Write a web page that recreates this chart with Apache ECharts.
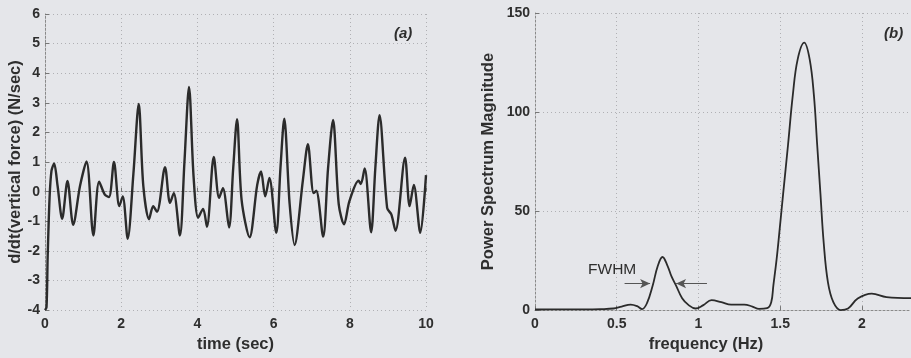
<!DOCTYPE html>
<html>
<head>
<meta charset="utf-8">
<script src="https://cdn.jsdelivr.net/npm/echarts@6/dist/echarts.min.js"></script>
<style>
  html, body { margin: 0; padding: 0; background: #e5e6ea; }
  #chart { width: 911px; height: 358px; }
</style>
</head>
<body>
<div id="chart"></div>
<script>
// (a) rate of change of vertical force over time
const timeSec = [0, 0.04, 0.07, 0.12, 0.17, 0.24, 0.33, 0.45, 0.59, 0.74, 0.92, 1.09, 1.27, 1.42, 1.57, 1.68, 1.81, 1.95, 2.04, 2.17, 2.32, 2.46, 2.58, 2.73, 2.84, 2.94, 3.15, 3.28, 3.38, 3.54, 3.66, 3.78, 3.9, 4.02, 4.15, 4.25, 4.43, 4.57, 4.67, 4.83, 4.94, 5.04, 5.16, 5.37, 5.57, 5.67, 5.78, 5.89, 6.07, 6.18, 6.28, 6.42, 6.55, 6.77, 6.9, 7.05, 7.12, 7.3, 7.43, 7.56, 7.71, 7.85, 7.99, 8.23, 8.29, 8.39, 8.56, 8.67, 8.78, 8.98, 9.09, 9.2, 9.45, 9.57, 9.68, 9.85, 10];
const forceRate = [-4, -3.9, -2.2, -0.2, 0.7, 0.95, 0.2, -0.92, 0.36, -1.12, 0.2, 1.02, -1.48, 0.34, -0.1, -0.18, 1.0, -0.49, -0.16, -1.59, 0.6, 2.96, 0.2, -0.93, -0.49, -0.68, 0.83, -0.38, -0.05, -1.48, 1.0, 3.54, 0.5, -0.88, -0.58, -1.19, 1.17, -0.21, 0.12, -1.21, 0.8, 2.45, -0.28, -1.54, 0.23, 0.68, -0.16, 0.46, -1.39, 0.8, 2.46, -0.4, -1.8, 0.4, 1.6, -0.05, 0.03, -1.52, 0.8, 2.42, -0.43, -1.1, -0.32, 0.37, 0.26, 0.78, -1.37, 0.8, 2.58, -0.55, -0.77, -1.32, 1.15, -0.49, 0.23, -1.39, 0.56];

// (b) power spectrum of the signal above
const freqHz = [0, 0.1, 0.2, 0.3, 0.4, 0.48, 0.53, 0.585, 0.625, 0.655, 0.685, 0.72, 0.75, 0.78, 0.81, 0.835, 0.863, 0.9, 0.94, 0.982, 1.03, 1.08, 1.14, 1.2, 1.28, 1.33, 1.37, 1.42, 1.445, 1.458, 1.478, 1.498, 1.518, 1.548, 1.577, 1.607, 1.647, 1.68, 1.706, 1.726, 1.746, 1.766, 1.792, 1.825, 1.87, 1.915, 1.974, 2.06, 2.15, 2.3];
const powerMag = [0.3, 0.4, 0.4, 0.4, 0.5, 0.8, 1.8, 2.8, 2.0, 0.5, 3.5, 12.4, 22, 26.8, 22.5, 17, 12.4, 6, 2.5, 0.8, 2.5, 5, 4, 2.8, 2.8, 1.8, 0.6, 1.0, 4, 12.4, 25.7, 42, 58.8, 83.6, 108.5, 126.7, 135, 126.7, 108.5, 83.6, 58.8, 34, 14, 4, 0, 0.8, 5.8, 8.3, 6.6, 6.0];

// half-maximum width of the 0.78 Hz peak
const fwhmLevel = 13.4;
const fwhmLeft = [0.548, 0.704];
const fwhmRight = [1.052, 0.863];

const FONT = '"Liberation Sans", Arial, sans-serif';
const INK = '#2e2e2e';

function pairs(xs, ys) { return xs.map((x, i) => [x, ys[i]]); }

const axisLineStyle = { color: '#8a8a8a', width: 1, type: [2, 2] };
const gridLineStyle = { color: '#b0b0b4', width: 1, type: [1, 3] };
const tickLabel = { color: INK, fontFamily: FONT, fontWeight: 'bold', fontSize: 14 };
const nameStyle = { color: INK, fontFamily: FONT, fontWeight: 'bold', fontSize: 16.5 };

const chart = echarts.init(document.getElementById('chart'), null, { renderer: 'canvas' });

chart.setOption({
  backgroundColor: '#e5e6ea',
  animation: false,
  title: [
    { text: '(a)', left: 389, top: 21, textStyle: { color: INK, fontFamily: FONT, fontWeight: 'bold', fontStyle: 'italic', fontSize: 15 } },
    { text: '(b)', left: 879, top: 21, textStyle: { color: INK, fontFamily: FONT, fontWeight: 'bold', fontStyle: 'italic', fontSize: 15 } }
  ],
  grid: [
    { left: 45, top: 14, right: 485, bottom: 42 },
    { left: 535, top: 13, right: -8, bottom: 43 }
  ],
  xAxis: [
    {
      gridIndex: 0, type: 'value', min: 0, max: 10, interval: 2,
      name: 'time (sec)', nameLocation: 'middle', nameGap: 24, nameTextStyle: nameStyle,
      axisLine: { lineStyle: axisLineStyle },
      axisTick: { inside: true, length: 4, lineStyle: { color: '#777' } },
      axisLabel: Object.assign({ margin: 7 }, tickLabel),
      splitLine: { show: true, lineStyle: gridLineStyle }
    },
    {
      gridIndex: 1, type: 'value', min: 0, max: 2.3, interval: 0.5,
      name: 'frequency (Hz)', nameLocation: 'middle', nameGap: 24,
      nameTextStyle: Object.assign({ padding: [0, 34, 0, 0] }, nameStyle),
      axisLine: { lineStyle: axisLineStyle },
      axisTick: { inside: true, length: 4, lineStyle: { color: '#777' } },
      axisLabel: Object.assign({ margin: 7, showMaxLabel: false }, tickLabel),
      splitLine: { show: true, lineStyle: gridLineStyle }
    }
  ],
  yAxis: [
    {
      gridIndex: 0, type: 'value', min: -4, max: 6, interval: 1,
      name: 'd/dt(vertical force) (N/sec)', nameLocation: 'middle', nameGap: 19, nameTextStyle: nameStyle,
      axisLine: { show: true, lineStyle: axisLineStyle },
      axisTick: { show: true, inside: true, length: 4, lineStyle: { color: '#777' } },
      axisLabel: Object.assign({ margin: 5 }, tickLabel),
      splitLine: { show: true, lineStyle: gridLineStyle }
    },
    {
      gridIndex: 1, type: 'value', min: 0, max: 150, interval: 50,
      name: 'Power Spectrum Magnitude', nameLocation: 'middle', nameGap: 38, nameTextStyle: nameStyle,
      axisLine: { show: true, lineStyle: axisLineStyle },
      axisTick: { show: true, inside: true, length: 4, lineStyle: { color: '#777' } },
      axisLabel: Object.assign({ margin: 5 }, tickLabel),
      splitLine: { show: true, lineStyle: gridLineStyle }
    }
  ],
  series: [
    {
      type: 'line', xAxisIndex: 0, yAxisIndex: 0,
      data: pairs(timeSec, forceRate),
      smooth: 0.3, showSymbol: false, clip: true,
      lineStyle: { color: '#2b2b2b', width: 2.4 }
    },
    {
      type: 'line', xAxisIndex: 1, yAxisIndex: 1,
      data: pairs(freqHz, powerMag),
      smooth: 0.4, showSymbol: false, clip: true,
      lineStyle: { color: '#2b2b2b', width: 1.8 },
      markLine: {
        silent: true,
        symbol: ['none', 'arrow'],
        symbolSize: [7, 10],
        label: { show: false },
        lineStyle: { color: '#555', width: 1, type: 'solid' },
        data: [
          [{ coord: [fwhmLeft[0], fwhmLevel] }, { coord: [fwhmLeft[1], fwhmLevel] }],
          [{ coord: [fwhmRight[0], fwhmLevel] }, { coord: [fwhmRight[1], fwhmLevel] }]
        ]
      },
      markPoint: {
        silent: true,
        symbol: 'circle', symbolSize: 0,
        data: [{ coord: [0.472, 20.5], value: 'FWHM' }],
        label: {
          show: true, position: 'inside', formatter: 'FWHM',
          color: INK, fontFamily: FONT, fontSize: 15.5
        }
      }
    }
  ]
});
</script>
</body>
</html>
